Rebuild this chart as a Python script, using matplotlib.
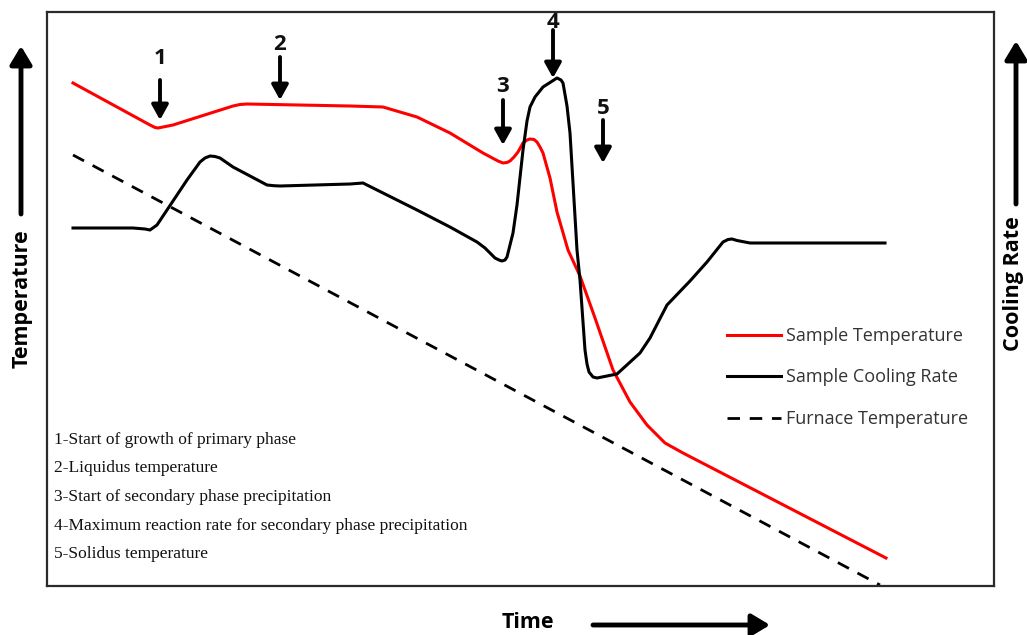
import matplotlib
matplotlib.use("Agg")
import matplotlib.pyplot as plt

# curve readings (time units / arbitrary temperature units)
red_t = [26, 103, 108, 111, 116, 126, 186, 193, 200, 303, 336, 370, 403, 436, 451, 456, 460, 463,
         467, 471, 476, 480, 483, 487, 490, 493, 496, 503, 510, 521, 533, 548, 566, 583, 600, 618,
         636, 839]
red_v = [503, 461, 458.5, 458, 459, 461, 480, 481.5, 482, 480, 479, 469, 453, 433, 425, 423, 423.5,
         425, 429, 434, 443, 446, 447, 446.5, 444, 439, 433, 408, 374, 336, 310, 268, 216, 184, 161,
         143, 133, 28]

rate_t = [26, 86, 98, 103, 110, 120, 140, 153, 158, 163, 168, 173, 186, 220, 227, 233, 303, 316,
          336, 370, 403, 430, 438, 448, 452, 455, 458, 460, 466, 470, 476, 480, 483, 488, 496, 510,
          514, 516, 520, 523, 526, 530, 533, 538, 540, 542, 546, 550, 570, 593, 603, 620, 643, 660,
          676, 681, 685, 690, 703, 838]
rate_v = [358, 358, 357, 356, 361, 376, 406, 424, 428, 430, 429.5, 428, 419, 401, 400.3, 400, 402,
          403, 393, 376, 359, 344, 338, 328, 326, 325, 326, 329, 353, 381, 436, 465, 479, 489, 499,
          508, 506, 503, 480, 453, 403, 336, 306, 236, 222, 214, 209, 208, 212, 233, 248, 281, 305,
          324, 344, 346.5, 347, 345.5, 343, 343]

furnace_t = [26, 833]
furnace_v = [431, 1]

# event markers: label, time, label height, arrow tail, arrow tip
event_labels = ["1", "2", "3", "4", "5"]
event_t = [113, 233, 456, 506, 556]
event_label_v = [527, 542, 500, 563, 478]
event_tail_v = [506, 529, 486, 556, 466]
event_tip_v = [466, 486, 441, 508, 423]

notes = [
    "1-Start of growth of primary phase",
    "2-Liquidus temperature",
    "3-Start of secondary phase precipitation",
    "4-Maximum reaction rate for secondary phase precipitation",
    "5-Solidus temperature",
]

W, H = 1027, 635
fig = plt.figure(figsize=(W / 100, H / 100), dpi=100)
ax = fig.add_axes([47 / W, 49 / H, 947 / W, 574 / H])
ax.set_xlim(0, 947)
ax.set_ylim(0, 574)
ax.set_xticks([])
ax.set_yticks([])
for s in ax.spines.values():
    s.set_linewidth(1.6)
    s.set_color("#2a2a2a")

ax.plot(red_t, red_v, color="#ff0000", lw=2.2, solid_joinstyle="round", label="Sample Temperature")
ax.plot(rate_t, rate_v, color="black", lw=2.2, solid_joinstyle="round", label="Sample Cooling Rate")
ax.plot(furnace_t, furnace_v, color="black", lw=2.0, linestyle=(0, (4.5, 3.5)), label="Furnace Temperature")

for lab, t, lv, tail, tip in zip(event_labels, event_t, event_label_v, event_tail_v, event_tip_v):
    ax.annotate("", xy=(t, tip), xytext=(t, tail),
                arrowprops=dict(arrowstyle="-|>,head_length=0.45,head_width=0.25", lw=2.8,
                                color="black", shrinkA=0, shrinkB=0, mutation_scale=20))
    ax.text(t, lv, lab, ha="center", va="center", fontsize=16, fontweight="bold",
            family="Open Sans", color="#111111", clip_on=False)

leg = ax.legend(loc="upper left", bbox_to_anchor=(727 / W, 1 - 327 / H), bbox_transform=fig.transFigure,
                frameon=False, handlelength=3.0, handletextpad=0.25, labelspacing=1.3,
                borderpad=0, borderaxespad=0, prop={"family": "Open Sans", "size": 13})
for txt in leg.get_texts():
    txt.set_color("#333333")

for i, line in enumerate(notes):
    fig.text(54 / W, 1 - (440 + 28.5 * i) / H, line, ha="left", va="center",
             family="Liberation Serif", fontsize=12.5, color="#111111")

# axis captions with arrows
lab_kw = dict(family="Open Sans", fontweight="bold", fontsize=15.5, color="black")
fig.text(22 / W, 1 - 299 / H, "Temperature", rotation=90, ha="center", va="center", **lab_kw)
fig.text(1014 / W, 1 - 284 / H, "Cooling Rate", rotation=90, ha="center", va="center", **lab_kw)
fig.text(528 / W, 1 - 623 / H, "Time", ha="center", va="center", **lab_kw)

arr = dict(arrowstyle="-|>,head_length=0.5,head_width=0.3", lw=3.5, color="black",
           shrinkA=0, shrinkB=0, mutation_scale=22)
ax.annotate("", xy=(21 / W, 1 - 46 / H), xytext=(21 / W, 1 - 214 / H), xycoords="figure fraction",
            textcoords="figure fraction", arrowprops=arr)
ax.annotate("", xy=(1016 / W, 1 - 41 / H), xytext=(1016 / W, 1 - 204 / H), xycoords="figure fraction",
            textcoords="figure fraction", arrowprops=arr)
ax.annotate("", xy=(770 / W, 1 - 625 / H), xytext=(593 / W, 1 - 625 / H), xycoords="figure fraction",
            textcoords="figure fraction", arrowprops=arr)

fig.savefig("out.png", dpi=100)
